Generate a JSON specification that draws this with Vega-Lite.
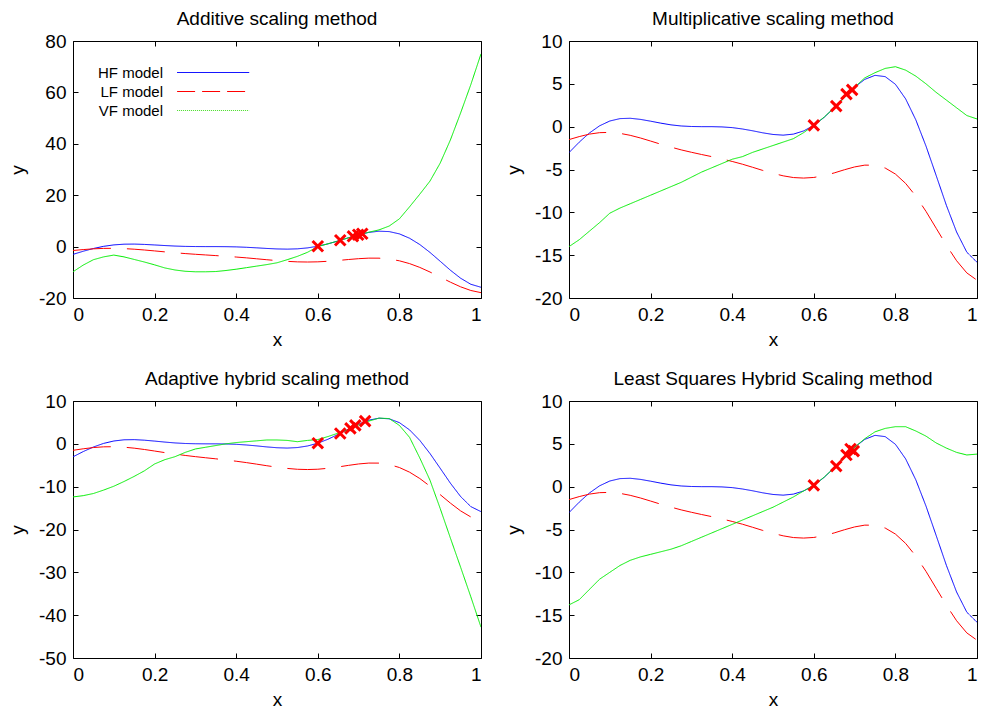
{
  "$schema": "https://vega.github.io/schema/vega-lite/v6.json",
  "background": "white",
  "padding": {"left": 7, "top": 9, "right": 0, "bottom": 0},
  "bounds": "flush",
  "columns": 2,
  "spacing": {"row": 103, "column": 88},
  "config": {
    "font": "Liberation Sans",
    "view": {"stroke": "black", "strokeWidth": 1},
    "axis": {
      "grid": false, "domain": false, "tickColor": "black", "tickSize": -5, "tickWidth": 1,
      "labelFontSize": 19, "labelColor": "black", "labelFont": "Liberation Sans", "labelPadding": 12,
      "titleFontSize": 19, "titleFontWeight": "normal", "titleColor": "black", "titleFont": "Liberation Sans"
    },
    "axisBottom": {"titleBaseline": "alphabetic", "titleY": 47},
    "axisLeft": {"titleBaseline": "alphabetic", "titleX": -50},
    "title": {"fontSize": 19, "fontWeight": "normal", "font": "Liberation Sans", "color": "black", "baseline": "alphabetic", "offset": 3, "anchor": "middle", "frame": "group"}
  },
  "resolve": {"legend": {"color": "independent", "strokeDash": "independent"}},
  "datasets": {
    "legendrows": [
      {"model": "HF model", "x": 0.5, "y": 0},
      {"model": "LF model", "x": 0.5, "y": 0},
      {"model": "VF model", "x": 0.5, "y": 0}
    ],
    "lines": [
      {"panel":"all","model":"HF model","x":0,"y":-3.03},{"panel":"all","model":"HF model","x":0.025,"y":-1.81},{"panel":"all","model":"HF model","x":0.05,"y":-0.74},{"panel":"all","model":"HF model","x":0.075,"y":0.10},{"panel":"all","model":"HF model","x":0.1,"y":0.66},{"panel":"all","model":"HF model","x":0.125,"y":0.94},{"panel":"all","model":"HF model","x":0.15,"y":0.98},{"panel":"all","model":"HF model","x":0.175,"y":0.85},{"panel":"all","model":"HF model","x":0.2,"y":0.64},{"panel":"all","model":"HF model","x":0.225,"y":0.41},{"panel":"all","model":"HF model","x":0.25,"y":0.21},{"panel":"all","model":"HF model","x":0.275,"y":0.08},{"panel":"all","model":"HF model","x":0.3,"y":0.02},{"panel":"all","model":"HF model","x":0.325,"y":0.0},{"panel":"all","model":"HF model","x":0.35,"y":0.0},{"panel":"all","model":"HF model","x":0.375,"y":-0.03},{"panel":"all","model":"HF model","x":0.4,"y":-0.11},{"panel":"all","model":"HF model","x":0.425,"y":-0.27},{"panel":"all","model":"HF model","x":0.45,"y":-0.48},{"panel":"all","model":"HF model","x":0.475,"y":-0.72},{"panel":"all","model":"HF model","x":0.5,"y":-0.91},{"panel":"all","model":"HF model","x":0.525,"y":-0.99},{"panel":"all","model":"HF model","x":0.55,"y":-0.87},{"panel":"all","model":"HF model","x":0.575,"y":-0.50},{"panel":"all","model":"HF model","x":0.6,"y":0.15},{"panel":"all","model":"HF model","x":0.625,"y":1.07},{"panel":"all","model":"HF model","x":0.65,"y":2.21},{"panel":"all","model":"HF model","x":0.675,"y":3.44},{"panel":"all","model":"HF model","x":0.7,"y":4.61},{"panel":"all","model":"HF model","x":0.725,"y":5.52},{"panel":"all","model":"HF model","x":0.75,"y":5.99},{"panel":"all","model":"HF model","x":0.775,"y":5.84},{"panel":"all","model":"HF model","x":0.8,"y":4.95},{"panel":"all","model":"HF model","x":0.825,"y":3.25},{"panel":"all","model":"HF model","x":0.85,"y":0.80},{"panel":"all","model":"HF model","x":0.875,"y":-2.27},{"panel":"all","model":"HF model","x":0.9,"y":-5.71},{"panel":"all","model":"HF model","x":0.925,"y":-9.19},{"panel":"all","model":"HF model","x":0.95,"y":-12.30},{"panel":"all","model":"HF model","x":0.975,"y":-14.65},{"panel":"all","model":"HF model","x":1,"y":-15.83},
      {"panel":"all","model":"LF model","x":0,"y":-1.51},{"panel":"all","model":"LF model","x":0.025,"y":-1.16},{"panel":"all","model":"LF model","x":0.05,"y":-0.87},{"panel":"all","model":"LF model","x":0.075,"y":-0.70},{"panel":"all","model":"LF model","x":0.1,"y":-0.67},{"panel":"all","model":"LF model","x":0.125,"y":-0.78},{"panel":"all","model":"LF model","x":0.15,"y":-1.01},{"panel":"all","model":"LF model","x":0.175,"y":-1.32},{"panel":"all","model":"LF model","x":0.2,"y":-1.68},{"panel":"all","model":"LF model","x":0.225,"y":-2.05},{"panel":"all","model":"LF model","x":0.25,"y":-2.39},{"panel":"all","model":"LF model","x":0.275,"y":-2.71},{"panel":"all","model":"LF model","x":0.3,"y":-2.99},{"panel":"all","model":"LF model","x":0.325,"y":-3.25},{"panel":"all","model":"LF model","x":0.35,"y":-3.50},{"panel":"all","model":"LF model","x":0.375,"y":-3.77},{"panel":"all","model":"LF model","x":0.4,"y":-4.06},{"panel":"all","model":"LF model","x":0.425,"y":-4.38},{"panel":"all","model":"LF model","x":0.45,"y":-4.74},{"panel":"all","model":"LF model","x":0.475,"y":-5.11},{"panel":"all","model":"LF model","x":0.5,"y":-5.45},{"panel":"all","model":"LF model","x":0.525,"y":-5.74},{"panel":"all","model":"LF model","x":0.55,"y":-5.94},{"panel":"all","model":"LF model","x":0.575,"y":-6.00},{"panel":"all","model":"LF model","x":0.6,"y":-5.93},{"panel":"all","model":"LF model","x":0.625,"y":-5.71},{"panel":"all","model":"LF model","x":0.65,"y":-5.40},{"panel":"all","model":"LF model","x":0.675,"y":-5.03},{"panel":"all","model":"LF model","x":0.7,"y":-4.70},{"panel":"all","model":"LF model","x":0.725,"y":-4.49},{"panel":"all","model":"LF model","x":0.75,"y":-4.50},{"panel":"all","model":"LF model","x":0.775,"y":-4.83},{"panel":"all","model":"LF model","x":0.8,"y":-5.53},{"panel":"all","model":"LF model","x":0.825,"y":-6.62},{"panel":"all","model":"LF model","x":0.85,"y":-8.10},{"panel":"all","model":"LF model","x":0.875,"y":-9.89},{"panel":"all","model":"LF model","x":0.9,"y":-11.86},{"panel":"all","model":"LF model","x":0.925,"y":-13.84},{"panel":"all","model":"LF model","x":0.95,"y":-15.65},{"panel":"all","model":"LF model","x":0.975,"y":-17.07},{"panel":"all","model":"LF model","x":1,"y":-17.92},
      {"panel":"add","model":"VF model","x":0,"y":-9.8},{"panel":"add","model":"VF model","x":0.025,"y":-7.2},{"panel":"add","model":"VF model","x":0.05,"y":-5.1},{"panel":"add","model":"VF model","x":0.075,"y":-4.0},{"panel":"add","model":"VF model","x":0.1,"y":-3.3},{"panel":"add","model":"VF model","x":0.125,"y":-4.0},{"panel":"add","model":"VF model","x":0.15,"y":-5.0},{"panel":"add","model":"VF model","x":0.175,"y":-6.0},{"panel":"add","model":"VF model","x":0.2,"y":-7.1},{"panel":"add","model":"VF model","x":0.225,"y":-8.3},{"panel":"add","model":"VF model","x":0.25,"y":-9.1},{"panel":"add","model":"VF model","x":0.275,"y":-9.6},{"panel":"add","model":"VF model","x":0.3,"y":-9.8},{"panel":"add","model":"VF model","x":0.325,"y":-9.8},{"panel":"add","model":"VF model","x":0.35,"y":-9.7},{"panel":"add","model":"VF model","x":0.375,"y":-9.3},{"panel":"add","model":"VF model","x":0.4,"y":-8.8},{"panel":"add","model":"VF model","x":0.425,"y":-8.2},{"panel":"add","model":"VF model","x":0.45,"y":-7.6},{"panel":"add","model":"VF model","x":0.475,"y":-7.0},{"panel":"add","model":"VF model","x":0.5,"y":-6.3},{"panel":"add","model":"VF model","x":0.525,"y":-5.1},{"panel":"add","model":"VF model","x":0.55,"y":-3.8},{"panel":"add","model":"VF model","x":0.575,"y":-2.2},{"panel":"add","model":"VF model","x":0.6,"y":0.0},{"panel":"add","model":"VF model","x":0.625,"y":1.1},{"panel":"add","model":"VF model","x":0.65,"y":2.2},{"panel":"add","model":"VF model","x":0.675,"y":3.4},{"panel":"add","model":"VF model","x":0.7,"y":4.6},{"panel":"add","model":"VF model","x":0.725,"y":5.6},{"panel":"add","model":"VF model","x":0.75,"y":6.5},{"panel":"add","model":"VF model","x":0.775,"y":8.0},{"panel":"add","model":"VF model","x":0.8,"y":10.8},{"panel":"add","model":"VF model","x":0.825,"y":15.5},{"panel":"add","model":"VF model","x":0.85,"y":20.4},{"panel":"add","model":"VF model","x":0.875,"y":25.5},{"panel":"add","model":"VF model","x":0.9,"y":32.5},{"panel":"add","model":"VF model","x":0.925,"y":41.5},{"panel":"add","model":"VF model","x":0.95,"y":52},{"panel":"add","model":"VF model","x":0.975,"y":63},{"panel":"add","model":"VF model","x":1,"y":75},
      {"panel":"mul","model":"VF model","x":0,"y":-14.0},{"panel":"mul","model":"VF model","x":0.025,"y":-13.2},{"panel":"mul","model":"VF model","x":0.05,"y":-12.2},{"panel":"mul","model":"VF model","x":0.075,"y":-11.2},{"panel":"mul","model":"VF model","x":0.1,"y":-10.1},{"panel":"mul","model":"VF model","x":0.125,"y":-9.5},{"panel":"mul","model":"VF model","x":0.15,"y":-9.0},{"panel":"mul","model":"VF model","x":0.175,"y":-8.5},{"panel":"mul","model":"VF model","x":0.2,"y":-8.0},{"panel":"mul","model":"VF model","x":0.225,"y":-7.5},{"panel":"mul","model":"VF model","x":0.25,"y":-7.0},{"panel":"mul","model":"VF model","x":0.275,"y":-6.5},{"panel":"mul","model":"VF model","x":0.3,"y":-5.9},{"panel":"mul","model":"VF model","x":0.325,"y":-5.3},{"panel":"mul","model":"VF model","x":0.35,"y":-4.8},{"panel":"mul","model":"VF model","x":0.375,"y":-4.3},{"panel":"mul","model":"VF model","x":0.4,"y":-3.8},{"panel":"mul","model":"VF model","x":0.425,"y":-3.5},{"panel":"mul","model":"VF model","x":0.45,"y":-3.0},{"panel":"mul","model":"VF model","x":0.475,"y":-2.6},{"panel":"mul","model":"VF model","x":0.5,"y":-2.2},{"panel":"mul","model":"VF model","x":0.525,"y":-1.8},{"panel":"mul","model":"VF model","x":0.55,"y":-1.4},{"panel":"mul","model":"VF model","x":0.575,"y":-0.7},{"panel":"mul","model":"VF model","x":0.6,"y":0.15},{"panel":"mul","model":"VF model","x":0.625,"y":1.1},{"panel":"mul","model":"VF model","x":0.65,"y":2.2},{"panel":"mul","model":"VF model","x":0.675,"y":3.4},{"panel":"mul","model":"VF model","x":0.7,"y":4.6},{"panel":"mul","model":"VF model","x":0.725,"y":5.7},{"panel":"mul","model":"VF model","x":0.75,"y":6.3},{"panel":"mul","model":"VF model","x":0.775,"y":6.8},{"panel":"mul","model":"VF model","x":0.8,"y":7.0},{"panel":"mul","model":"VF model","x":0.825,"y":6.6},{"panel":"mul","model":"VF model","x":0.85,"y":5.9},{"panel":"mul","model":"VF model","x":0.875,"y":5.0},{"panel":"mul","model":"VF model","x":0.9,"y":4.0},{"panel":"mul","model":"VF model","x":0.925,"y":3.1},{"panel":"mul","model":"VF model","x":0.95,"y":2.2},{"panel":"mul","model":"VF model","x":0.975,"y":1.3},{"panel":"mul","model":"VF model","x":1,"y":0.9},
      {"panel":"ada","model":"VF model","x":0,"y":-12.4},{"panel":"ada","model":"VF model","x":0.025,"y":-12.1},{"panel":"ada","model":"VF model","x":0.05,"y":-11.6},{"panel":"ada","model":"VF model","x":0.075,"y":-10.8},{"panel":"ada","model":"VF model","x":0.1,"y":-9.9},{"panel":"ada","model":"VF model","x":0.125,"y":-8.8},{"panel":"ada","model":"VF model","x":0.15,"y":-7.6},{"panel":"ada","model":"VF model","x":0.175,"y":-6.3},{"panel":"ada","model":"VF model","x":0.2,"y":-4.7},{"panel":"ada","model":"VF model","x":0.225,"y":-3.7},{"panel":"ada","model":"VF model","x":0.25,"y":-3.0},{"panel":"ada","model":"VF model","x":0.275,"y":-2.0},{"panel":"ada","model":"VF model","x":0.3,"y":-1.2},{"panel":"ada","model":"VF model","x":0.325,"y":-0.8},{"panel":"ada","model":"VF model","x":0.35,"y":-0.4},{"panel":"ada","model":"VF model","x":0.375,"y":0.0},{"panel":"ada","model":"VF model","x":0.4,"y":0.3},{"panel":"ada","model":"VF model","x":0.425,"y":0.5},{"panel":"ada","model":"VF model","x":0.45,"y":0.7},{"panel":"ada","model":"VF model","x":0.475,"y":0.9},{"panel":"ada","model":"VF model","x":0.5,"y":0.9},{"panel":"ada","model":"VF model","x":0.525,"y":0.8},{"panel":"ada","model":"VF model","x":0.55,"y":0.5},{"panel":"ada","model":"VF model","x":0.575,"y":0.8},{"panel":"ada","model":"VF model","x":0.6,"y":1.0},{"panel":"ada","model":"VF model","x":0.625,"y":1.7},{"panel":"ada","model":"VF model","x":0.65,"y":2.5},{"panel":"ada","model":"VF model","x":0.675,"y":3.3},{"panel":"ada","model":"VF model","x":0.7,"y":4.4},{"panel":"ada","model":"VF model","x":0.725,"y":5.3},{"panel":"ada","model":"VF model","x":0.75,"y":6.0},{"panel":"ada","model":"VF model","x":0.775,"y":5.9},{"panel":"ada","model":"VF model","x":0.8,"y":4.3},{"panel":"ada","model":"VF model","x":0.825,"y":1.5},{"panel":"ada","model":"VF model","x":0.85,"y":-3.3},{"panel":"ada","model":"VF model","x":0.875,"y":-8.5},{"panel":"ada","model":"VF model","x":0.9,"y":-15.1},{"panel":"ada","model":"VF model","x":0.925,"y":-22.0},{"panel":"ada","model":"VF model","x":0.95,"y":-28.8},{"panel":"ada","model":"VF model","x":0.975,"y":-35.7},{"panel":"ada","model":"VF model","x":1,"y":-42.8},
      {"panel":"ls","model":"VF model","x":0,"y":-13.8},{"panel":"ls","model":"VF model","x":0.025,"y":-13.2},{"panel":"ls","model":"VF model","x":0.05,"y":-12.0},{"panel":"ls","model":"VF model","x":0.075,"y":-10.8},{"panel":"ls","model":"VF model","x":0.1,"y":-10.0},{"panel":"ls","model":"VF model","x":0.125,"y":-9.2},{"panel":"ls","model":"VF model","x":0.15,"y":-8.6},{"panel":"ls","model":"VF model","x":0.175,"y":-8.2},{"panel":"ls","model":"VF model","x":0.2,"y":-7.9},{"panel":"ls","model":"VF model","x":0.225,"y":-7.6},{"panel":"ls","model":"VF model","x":0.25,"y":-7.3},{"panel":"ls","model":"VF model","x":0.275,"y":-6.9},{"panel":"ls","model":"VF model","x":0.3,"y":-6.4},{"panel":"ls","model":"VF model","x":0.325,"y":-5.9},{"panel":"ls","model":"VF model","x":0.35,"y":-5.4},{"panel":"ls","model":"VF model","x":0.375,"y":-4.9},{"panel":"ls","model":"VF model","x":0.4,"y":-4.4},{"panel":"ls","model":"VF model","x":0.425,"y":-3.9},{"panel":"ls","model":"VF model","x":0.45,"y":-3.4},{"panel":"ls","model":"VF model","x":0.475,"y":-2.9},{"panel":"ls","model":"VF model","x":0.5,"y":-2.4},{"panel":"ls","model":"VF model","x":0.525,"y":-1.8},{"panel":"ls","model":"VF model","x":0.55,"y":-1.2},{"panel":"ls","model":"VF model","x":0.575,"y":-0.5},{"panel":"ls","model":"VF model","x":0.6,"y":0.15},{"panel":"ls","model":"VF model","x":0.625,"y":1.1},{"panel":"ls","model":"VF model","x":0.65,"y":2.2},{"panel":"ls","model":"VF model","x":0.675,"y":3.4},{"panel":"ls","model":"VF model","x":0.7,"y":4.6},{"panel":"ls","model":"VF model","x":0.725,"y":5.6},{"panel":"ls","model":"VF model","x":0.75,"y":6.4},{"panel":"ls","model":"VF model","x":0.775,"y":6.8},{"panel":"ls","model":"VF model","x":0.8,"y":7.0},{"panel":"ls","model":"VF model","x":0.825,"y":7.0},{"panel":"ls","model":"VF model","x":0.85,"y":6.5},{"panel":"ls","model":"VF model","x":0.875,"y":5.9},{"panel":"ls","model":"VF model","x":0.9,"y":5.1},{"panel":"ls","model":"VF model","x":0.925,"y":4.5},{"panel":"ls","model":"VF model","x":0.95,"y":4.0},{"panel":"ls","model":"VF model","x":0.975,"y":3.7},{"panel":"ls","model":"VF model","x":1,"y":3.8}
    ],
    "markers": [
      {"panel":"add","x":0.6,"y":0.15},{"panel":"add","x":0.655,"y":2.45},{"panel":"add","x":0.686,"y":4.0},{"panel":"add","x":0.699,"y":4.6},{"panel":"add","x":0.709,"y":5.0},
      {"panel":"mul","x":0.6,"y":0.15},{"panel":"mul","x":0.655,"y":2.4},{"panel":"mul","x":0.68,"y":3.8},{"panel":"mul","x":0.694,"y":4.3},
      {"panel":"ada","x":0.6,"y":0.15},{"panel":"ada","x":0.655,"y":2.4},{"panel":"ada","x":0.68,"y":3.6},{"panel":"ada","x":0.692,"y":4.3},{"panel":"ada","x":0.716,"y":5.3},
      {"panel":"ls","x":0.6,"y":0.15},{"panel":"ls","x":0.655,"y":2.4},{"panel":"ls","x":0.68,"y":3.7},{"panel":"ls","x":0.69,"y":4.4},{"panel":"ls","x":0.698,"y":4.15}
    ]
  },
  "concat": [
    {
      "title": "Additive scaling method",
      "width": 408, "height": 257,
      "layer": [
        {
          "data": {"name": "lines"},
          "transform": [{"filter": "datum.panel === 'all' || datum.panel === 'add'"}],
          "mark": {"type": "line", "strokeWidth": 1, "clip": true},
          "encoding": {
            "x": {"field": "x", "type": "quantitative", "scale": {"domain": [0, 1], "nice": false, "zero": false}, "axis": {"values": [0, 0.2, 0.4, 0.6, 0.8, 1], "labelExpr": "datum.value + ''", "title": "x"}},
            "y": {"field": "y", "type": "quantitative", "scale": {"domain": [-20, 80], "nice": false, "zero": false}, "axis": {"values": [-20, 0, 20, 40, 60, 80], "labelExpr": "datum.value + ''", "title": "y"}},
            "color": {"field": "model", "type": "nominal", "scale": {"domain": ["HF model", "LF model", "VF model"], "range": ["#0000ff", "#ff0000", "#00ee00"]}, "legend": null},
            "strokeDash": {"field": "model", "type": "nominal", "scale": {"domain": ["HF model", "LF model", "VF model"], "range": [[1, 0], [38, 16], [1, 0]]}, "legend": null}
          }
        },
        {
          "data": {"name": "legendrows"},
          "mark": {"type": "line", "strokeWidth": 1},
          "encoding": {
            "x": {"field": "x", "type": "quantitative", "axis": null},
            "y": {"field": "y", "type": "quantitative", "axis": null},
            "color": {"field": "model", "type": "nominal", "scale": {"domain": ["HF model", "LF model", "VF model"], "range": ["#0000ff", "#ff0000", "#44dd22"]},
              "legend": {"orient": "none", "legendX": 86, "legendY": 24, "title": null, "labelFontSize": 15, "labelFont": "Liberation Sans", "labelColor": "black", "symbolType": "M3,0H23.4", "symbolSize": 50, "symbolStrokeWidth": 1, "labelAlign": "right", "labelOffset": -11, "rowPadding": 3, "padding": 0}},
            "strokeDash": {"field": "model", "type": "nominal", "scale": {"domain": ["HF model", "LF model", "VF model"], "range": [[1, 0], [18, 7], [1, 1]]},
              "legend": {"orient": "none", "legendX": 86, "legendY": 24, "title": null, "labelFontSize": 15, "labelFont": "Liberation Sans", "labelColor": "black", "symbolType": "M3,0H23.4", "symbolSize": 50, "symbolStrokeWidth": 1, "labelAlign": "right", "labelOffset": -11, "rowPadding": 3, "padding": 0}}
          }
        },
        {
          "data": {"name": "markers"},
          "transform": [{"filter": "datum.panel === 'add'"}],
          "mark": {"type": "point", "shape": "M-1,-1L1,1M1,-1L-1,1", "filled": false, "stroke": "#ff0000", "strokeWidth": 3, "size": 110, "opacity": 1},
          "encoding": {
            "x": {"field": "x", "type": "quantitative", "axis": {"orient": "top", "labels": false, "title": null, "values": [0, 0.2, 0.4, 0.6, 0.8, 1]}},
            "y": {"field": "y", "type": "quantitative", "axis": {"orient": "right", "labels": false, "title": null, "values": [-20, 0, 20, 40, 60, 80]}}
          }
        }
      ],
      "resolve": {"axis": {"x": "independent", "y": "independent"}, "scale": {"strokeDash": "independent", "color": "independent"}}
    },
    {
      "title": "Multiplicative scaling method",
      "width": 408, "height": 257,
      "layer": [
        {
          "data": {"name": "lines"},
          "transform": [{"filter": "datum.panel === 'all' || datum.panel === 'mul'"}],
          "mark": {"type": "line", "strokeWidth": 1, "clip": true},
          "encoding": {
            "x": {"field": "x", "type": "quantitative", "scale": {"domain": [0, 1], "nice": false, "zero": false}, "axis": {"values": [0, 0.2, 0.4, 0.6, 0.8, 1], "labelExpr": "datum.value + ''", "title": "x"}},
            "y": {"field": "y", "type": "quantitative", "scale": {"domain": [-20, 10], "nice": false, "zero": false}, "axis": {"values": [-20, -15, -10, -5, 0, 5, 10], "labelExpr": "datum.value + ''", "title": "y"}},
            "color": {"field": "model", "type": "nominal", "scale": {"domain": ["HF model", "LF model", "VF model"], "range": ["#0000ff", "#ff0000", "#00ee00"]}, "legend": null},
            "strokeDash": {"field": "model", "type": "nominal", "scale": {"domain": ["HF model", "LF model", "VF model"], "range": [[1, 0], [38, 16], [1, 0]]}, "legend": null}
          }
        },
        {
          "data": {"name": "markers"},
          "transform": [{"filter": "datum.panel === 'mul'"}],
          "mark": {"type": "point", "shape": "M-1,-1L1,1M1,-1L-1,1", "filled": false, "stroke": "#ff0000", "strokeWidth": 3, "size": 110, "opacity": 1},
          "encoding": {
            "x": {"field": "x", "type": "quantitative", "axis": {"orient": "top", "labels": false, "title": null, "values": [0, 0.2, 0.4, 0.6, 0.8, 1]}},
            "y": {"field": "y", "type": "quantitative", "axis": {"orient": "right", "labels": false, "title": null, "values": [-20, -15, -10, -5, 0, 5, 10]}}
          }
        }
      ],
      "resolve": {"axis": {"x": "independent", "y": "independent"}}
    },
    {
      "title": "Adaptive hybrid scaling method",
      "width": 408, "height": 257,
      "layer": [
        {
          "data": {"name": "lines"},
          "transform": [{"filter": "datum.panel === 'all' || datum.panel === 'ada'"}],
          "mark": {"type": "line", "strokeWidth": 1, "clip": true},
          "encoding": {
            "x": {"field": "x", "type": "quantitative", "scale": {"domain": [0, 1], "nice": false, "zero": false}, "axis": {"values": [0, 0.2, 0.4, 0.6, 0.8, 1], "labelExpr": "datum.value + ''", "title": "x"}},
            "y": {"field": "y", "type": "quantitative", "scale": {"domain": [-50, 10], "nice": false, "zero": false}, "axis": {"values": [-50, -40, -30, -20, -10, 0, 10], "labelExpr": "datum.value + ''", "title": "y"}},
            "color": {"field": "model", "type": "nominal", "scale": {"domain": ["HF model", "LF model", "VF model"], "range": ["#0000ff", "#ff0000", "#00ee00"]}, "legend": null},
            "strokeDash": {"field": "model", "type": "nominal", "scale": {"domain": ["HF model", "LF model", "VF model"], "range": [[1, 0], [38, 16], [1, 0]]}, "legend": null}
          }
        },
        {
          "data": {"name": "markers"},
          "transform": [{"filter": "datum.panel === 'ada'"}],
          "mark": {"type": "point", "shape": "M-1,-1L1,1M1,-1L-1,1", "filled": false, "stroke": "#ff0000", "strokeWidth": 3, "size": 110, "opacity": 1},
          "encoding": {
            "x": {"field": "x", "type": "quantitative", "axis": {"orient": "top", "labels": false, "title": null, "values": [0, 0.2, 0.4, 0.6, 0.8, 1]}},
            "y": {"field": "y", "type": "quantitative", "axis": {"orient": "right", "labels": false, "title": null, "values": [-50, -40, -30, -20, -10, 0, 10]}}
          }
        }
      ],
      "resolve": {"axis": {"x": "independent", "y": "independent"}}
    },
    {
      "title": "Least Squares Hybrid Scaling method",
      "width": 408, "height": 257,
      "layer": [
        {
          "data": {"name": "lines"},
          "transform": [{"filter": "datum.panel === 'all' || datum.panel === 'ls'"}],
          "mark": {"type": "line", "strokeWidth": 1, "clip": true},
          "encoding": {
            "x": {"field": "x", "type": "quantitative", "scale": {"domain": [0, 1], "nice": false, "zero": false}, "axis": {"values": [0, 0.2, 0.4, 0.6, 0.8, 1], "labelExpr": "datum.value + ''", "title": "x"}},
            "y": {"field": "y", "type": "quantitative", "scale": {"domain": [-20, 10], "nice": false, "zero": false}, "axis": {"values": [-20, -15, -10, -5, 0, 5, 10], "labelExpr": "datum.value + ''", "title": "y"}},
            "color": {"field": "model", "type": "nominal", "scale": {"domain": ["HF model", "LF model", "VF model"], "range": ["#0000ff", "#ff0000", "#00ee00"]}, "legend": null},
            "strokeDash": {"field": "model", "type": "nominal", "scale": {"domain": ["HF model", "LF model", "VF model"], "range": [[1, 0], [38, 16], [1, 0]]}, "legend": null}
          }
        },
        {
          "data": {"name": "markers"},
          "transform": [{"filter": "datum.panel === 'ls'"}],
          "mark": {"type": "point", "shape": "M-1,-1L1,1M1,-1L-1,1", "filled": false, "stroke": "#ff0000", "strokeWidth": 3, "size": 110, "opacity": 1},
          "encoding": {
            "x": {"field": "x", "type": "quantitative", "axis": {"orient": "top", "labels": false, "title": null, "values": [0, 0.2, 0.4, 0.6, 0.8, 1]}},
            "y": {"field": "y", "type": "quantitative", "axis": {"orient": "right", "labels": false, "title": null, "values": [-20, -15, -10, -5, 0, 5, 10]}}
          }
        }
      ],
      "resolve": {"axis": {"x": "independent", "y": "independent"}}
    }
  ]
}
